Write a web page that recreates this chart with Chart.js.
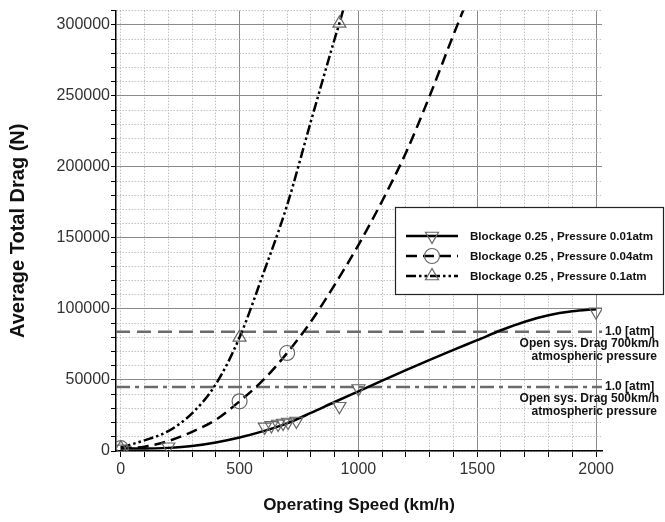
<!DOCTYPE html>
<html>
<head>
<meta charset="utf-8">
<script src="https://cdn.jsdelivr.net/npm/chart.js@4.4.1/dist/chart.umd.min.js"></script>
<style>
  html, body { margin: 0; padding: 0; background: #fff; }
</style>
</head>
<body>
<canvas id="chart" width="665" height="522"></canvas>
<script>
// fitted drag curves (speed in km/h, drag in N)
const lowSpeed = [0, 100, 200, 300, 400, 500, 600, 700, 800, 900, 1000, 1100, 1200, 1300, 1400, 1500, 1600, 1700, 1800, 1900, 2000];
const lowDrag = [1800, 1700, 2200, 3500, 6000, 9500, 14000, 19500, 26800, 34500, 42000, 49500, 57000, 64200, 71200, 78000, 85000, 91000, 95500, 98300, 99800];

const midSpeed = [0, 100, 200, 300, 400, 500, 600, 700, 800, 900, 1000, 1100, 1200, 1300, 1400, 1460];
const midDrag = [2000, 3000, 7000, 13500, 22000, 35000, 50000, 69000, 91000, 117000, 145000, 176000, 210000, 250000, 293000, 318000];

const highSpeed = [0, 100, 200, 300, 400, 500, 600, 700, 800, 900, 920, 940];
const highDrag = [2500, 7500, 14000, 26500, 47000, 80000, 125000, 173000, 232000, 290000, 301000, 313000];

// computed points on each curve
const lowPtSpeed = [0, 200, 606, 634, 662, 683, 704, 739, 920, 1000, 2000];
const lowPtDrag = [1500, 3000, 17000, 18000, 19000, 19700, 20400, 21100, 31500, 44000, 98000];
const midPtSpeed = [0, 500, 700];
const midPtDrag = [2000, 35000, 69000];
const highPtSpeed = [0, 500, 920];
const highPtDrag = [2000, 80000, 301000];

// open system drag at 1 atm
const refDrag700 = 84000;
const refDrag500 = 45000;

const xTickLabels = [0, 500, 1000, 1500, 2000];
const yTickLabels = [0, 50000, 100000, 150000, 200000, 250000, 300000];
const seriesNames = [
  "Blockage 0.25 , Pressure 0.01atm",
  "Blockage 0.25 , Pressure 0.04atm",
  "Blockage 0.25 , Pressure 0.1atm",
];

const X_MIN = -20, X_MAX = 2025, Y_MAX = 310000;
const FONT = "'Liberation Sans', Arial, sans-serif";
const MARK = "#666";
const DASH_MID = [11, 6];
const DASH_HIGH = [10, 3, 2.5, 3, 2.5, 3];
const DASH_REF700 = [14, 7];
const DASH_REF500 = [14, 5, 4, 5];

const pts = (xs, ys) => xs.map((x, i) => ({ x: x, y: ys[i] }));

function curve(xs, ys, dash) {
  return {
    data: pts(xs, ys),
    showLine: true,
    borderColor: "#000",
    borderWidth: 2.5,
    borderDash: dash,
    pointRadius: 0,
    cubicInterpolationMode: "monotone",
  };
}

function markers(xs, ys, style, rotation) {
  return {
    data: pts(xs, ys),
    showLine: false,
    pointStyle: style,
    rotation: rotation,
    pointRadius: 7.5,
    borderColor: MARK,
    borderWidth: 1.2,
    backgroundColor: "rgba(0,0,0,0)",
  };
}

function refLine(value, dash) {
  return {
    data: [{ x: X_MIN, y: value }, { x: X_MAX, y: value }],
    showLine: true,
    borderColor: "#6b6b6b",
    borderWidth: 2.5,
    borderDash: dash,
    pointRadius: 0,
  };
}

// legend swatch shapes
function shape(ctx, style, x, y, r) {
  ctx.beginPath();
  if (style === "circle") {
    ctx.arc(x, y, r, 0, Math.PI * 2);
  } else {
    const d = style === "down" ? 1 : -1;
    ctx.moveTo(x, y + d * r);
    ctx.lineTo(x - r * 0.866, y - (d * r) / 2);
    ctx.lineTo(x + r * 0.866, y - (d * r) / 2);
    ctx.closePath();
  }
  ctx.stroke();
}

const annotations = {
  id: "annotations",
  afterDraw(chart) {
    const ctx = chart.ctx;
    const y = chart.scales.y;
    ctx.save();

    // legend box
    const bx = 395, by = 207, bw = 269, bh = 88;
    ctx.fillStyle = "#fff";
    ctx.fillRect(bx, by, bw, bh);
    ctx.strokeStyle = "#222";
    ctx.lineWidth = 1.2;
    ctx.strokeRect(bx + 0.5, by + 0.5, bw - 1, bh - 1);

    const rows = [
      { dash: [], style: "down" },
      { dash: DASH_MID, style: "circle" },
      { dash: DASH_HIGH, style: "up" },
    ];
    ctx.font = "bold 11.6px " + FONT;
    ctx.textBaseline = "middle";
    rows.forEach((row, i) => {
      const ry = 236 + i * 20;
      ctx.strokeStyle = "#000";
      ctx.lineWidth = 2.5;
      ctx.setLineDash(row.dash);
      ctx.beginPath();
      ctx.moveTo(406, ry);
      ctx.lineTo(458, ry);
      ctx.stroke();
      ctx.setLineDash([]);
      ctx.strokeStyle = MARK;
      ctx.lineWidth = 1.2;
      shape(ctx, row.style, 432, ry, 7.5);
      ctx.fillStyle = "#111";
      ctx.textAlign = "left";
      ctx.fillText(seriesNames[i], 470, ry + 1);
    });

    // reference line labels
    const refs = [
      { v: refDrag700, speed: "700km/h" },
      { v: refDrag500, speed: "500km/h" },
    ];
    ctx.font = "bold 12px " + FONT;
    ctx.fillStyle = "#111";
    refs.forEach((r) => {
      const py = y.getPixelForValue(r.v);
      ctx.textAlign = "left";
      ctx.fillText("1.0 [atm]", 605, py);
      ctx.textAlign = "right";
      ctx.fillText("Open sys. Drag " + r.speed, 659, py + 12);
      ctx.fillText("atmospheric pressure", 657, py + 25);
    });
    ctx.restore();
  },
};

const stepTicks = (max, step) => {
  const out = [];
  for (let v = 0; v <= max; v += step) out.push({ value: v });
  return out;
};

new Chart(document.getElementById("chart"), {
  type: "scatter",
  data: {
    datasets: [
      markers(lowPtSpeed, lowPtDrag, "triangle", 180),
      markers(midPtSpeed, midPtDrag, "circle", 0),
      markers(highPtSpeed, highPtDrag, "triangle", 0),
      curve(lowSpeed, lowDrag, []),
      curve(midSpeed, midDrag, DASH_MID),
      curve(highSpeed, highDrag, DASH_HIGH),
      refLine(refDrag700, DASH_REF700),
      refLine(refDrag500, DASH_REF500),
    ],
  },
  options: {
    responsive: false,
    animation: false,
    events: [],
    devicePixelRatio: 1,
    layout: { padding: { top: 6, right: 63, bottom: 0, left: 0 } },
    plugins: { legend: { display: false }, tooltip: { enabled: false } },
    scales: {
      x: {
        type: "linear",
        min: X_MIN,
        max: X_MAX,
        afterBuildTicks: (s) => { s.ticks = stepTicks(2000, 100); },
        afterFit: (s) => { s.height = 71; },
        ticks: {
          autoSkip: false,
          maxRotation: 0,
          padding: 3,
          color: "#333",
          font: { family: FONT, size: 16 },
          callback: (v) => (xTickLabels.includes(v) ? String(v) : ""),
        },
        grid: {
          color: (c) => (c.tick && c.tick.value % 500 === 0 && c.tick.value > 0 ? "#8a8a8a" : "#c2c2c2"),
          lineWidth: 1,
          tickColor: "#000",
          tickLength: 6,
        },
        border: {
          color: "#000",
          width: 1.5,
          dash: (c) => (!c.tick || (c.tick.value % 500 === 0 && c.tick.value > 0) ? [] : [1.5, 1.5]),
        },
        title: {
          display: true,
          text: "Operating Speed (km/h)",
          color: "#111",
          font: { family: FONT, size: 17, weight: "bold" },
          padding: { top: 0, bottom: 6 },
        },
      },
      y: {
        type: "linear",
        min: 0,
        max: Y_MAX,
        afterBuildTicks: (s) => { s.ticks = stepTicks(Y_MAX, 10000); },
        afterFit: (s) => { s.width = 116; },
        ticks: {
          autoSkip: false,
          padding: 1,
          color: "#333",
          font: { family: FONT, size: 16 },
          callback: (v) => (yTickLabels.includes(v) ? String(v) : ""),
        },
        grid: {
          color: (c) => (c.tick && c.tick.value % 50000 === 0 && c.tick.value > 0 ? "#8a8a8a" : "#c2c2c2"),
          lineWidth: 1,
          tickColor: "#000",
          tickLength: 5,
        },
        border: {
          color: "#000",
          width: 1.5,
          dash: (c) => (!c.tick || (c.tick.value % 50000 === 0 && c.tick.value > 0) ? [] : [1.5, 1.5]),
        },
        title: {
          display: true,
          text: "Average Total Drag (N)",
          color: "#111",
          font: { family: FONT, size: 20, weight: "bold" },
          padding: { top: 6, bottom: 0 },
        },
      },
    },
  },
  plugins: [annotations],
});
</script>
</body>
</html>
